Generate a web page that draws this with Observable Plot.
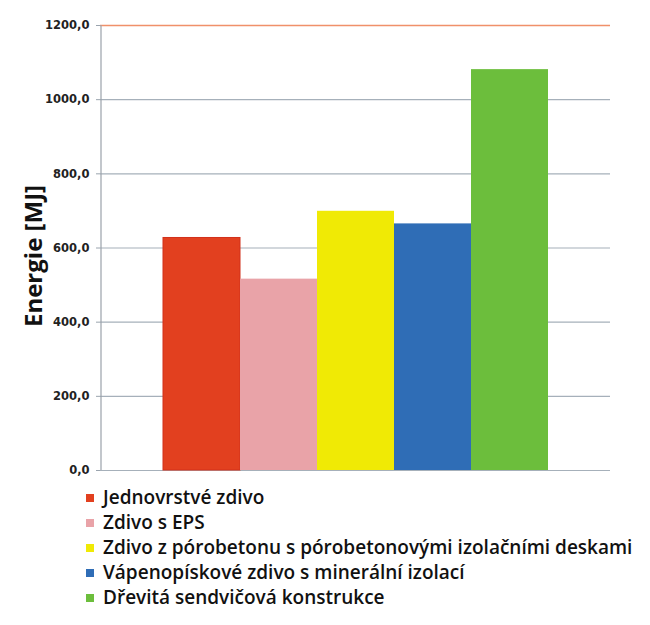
<!DOCTYPE html>
<html>
<head>
<meta charset="utf-8">
<script src="https://cdn.jsdelivr.net/npm/d3@7"></script>
<script src="https://cdn.jsdelivr.net/npm/@observablehq/plot@0.6"></script>
<style>
  body { margin: 0; background: #fff; }
  #chart { width: 650px; }
  #legend { margin-top: 5px; padding-left: 86px; font-family: "Open Sans", sans-serif; font-weight: 600; font-size: 19px; color: #111; }
  .item { height: 25px; line-height: 25px; display: flex; align-items: center; white-space: nowrap; }
  .sw { width: 8px; height: 8px; margin-right: 9px; flex: none; }
</style>
</head>
<body>
<div id="chart"></div>
<script>
const categories = [
  "Jednovrstvé zdivo",
  "Zdivo s EPS",
  "Zdivo z pórobetonu s pórobetonovými izolačními deskami",
  "Vápenopískové zdivo s minerální izolací",
  "Dřevitá sendvičová konstrukce"
];
const values = [627, 516, 699, 665, 1081];
const colors = ["#e2401f", "#e9a3a8", "#f0ea05", "#2f6db6", "#6cbe3c"];
const yTicks = [0, 200, 400, 600, 800, 1000, 1200];
const yLabel = "Energie [MJ]";

const data = categories.map((c, i) => ({category: c, value: values[i]}));
const fmt = d => d.toFixed(1).replace(".", ",");

// vertical axis line along the left edge of the frame
const axisLine = (index, scales, values, dimensions) => {
  const x = dimensions.marginLeft + 1;
  const line = document.createElementNS("http://www.w3.org/2000/svg", "line");
  line.setAttribute("x1", x);
  line.setAttribute("x2", x);
  line.setAttribute("y1", scales.y(1200));
  line.setAttribute("y2", scales.y(0));
  line.setAttribute("stroke", "#9aa2aa");
  line.setAttribute("stroke-width", 1.2);
  return line;
};

const chart = Plot.plot({
  width: 650,
  height: 480,
  marginTop: 25,
  marginBottom: 10,
  marginLeft: 100,
  marginRight: 40,
  style: {fontFamily: "DejaVu Sans, sans-serif", color: "#222", background: "#fff"},
  x: {domain: categories, paddingInner: 0, paddingOuter: 0.78, axis: null},
  y: {domain: [0, 1200]},
  color: {domain: categories, range: colors},
  marks: [
    Plot.gridY(yTicks, {stroke: "#a6b0ba", strokeOpacity: 1, strokeWidth: 1.2}),
    Plot.ruleY([1200], {stroke: "#f0906a", strokeWidth: 1.5}),
    Plot.axisY({ticks: yTicks, tickFormat: fmt, tickSize: 4, tickPadding: 7, stroke: "#9aa4ae", fill: "#222", fontSize: 11.5, fontWeight: "bold", label: null}),
    axisLine,
    Plot.barY(data, {x: "category", y: "value", fill: "category", stroke: d => d.category === categories[0] ? "#d2301a" : "none", strokeWidth: 1, inset: 0}),
    Plot.text([yLabel], {frameAnchor: "left", text: d => d, rotate: -90, textAnchor: "middle", dx: -66, dy: 8, fontSize: 24, fontWeight: "bold", fontFamily: "Open Sans, sans-serif", fill: "#111"})
  ]
});
document.getElementById("chart").appendChild(chart);

const legend = document.createElement("div");
legend.id = "legend";
categories.forEach((c, i) => {
  const item = document.createElement("div");
  item.className = "item";
  const sw = document.createElement("span");
  sw.className = "sw";
  sw.style.background = colors[i];
  const t = document.createElement("span");
  t.textContent = c;
  item.appendChild(sw);
  item.appendChild(t);
  legend.appendChild(item);
});
document.body.appendChild(legend);
</script>
</body>
</html>
